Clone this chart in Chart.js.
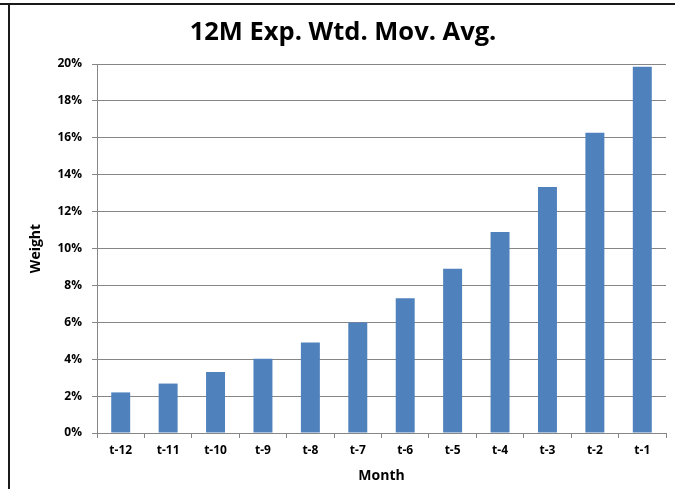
<!DOCTYPE html>
<html>
<head>
<meta charset="utf-8">
<script src="https://cdn.jsdelivr.net/npm/chart.js@4"></script>
<style>
  html, body { margin: 0; padding: 0; background: #fff; }
  #wrap { width: 675px; height: 489px; }
</style>
</head>
<body>
<div id="wrap"><canvas id="chart" width="675" height="489"></canvas></div>
<script>
const months = ["t-12","t-11","t-10","t-9","t-8","t-7","t-6","t-5","t-4","t-3","t-2","t-1"];
const weights = [2.20, 2.68, 3.30, 4.02, 4.91, 5.99, 7.31, 8.90, 10.90, 13.33, 16.27, 19.85];
const yTicks = [0, 2, 4, 6, 8, 10, 12, 14, 16, 18, 20];

const FONT = "'Open Sans', Lato, sans-serif";
const GRID = '#868686';

// frame lines (top + left) like the pasted excel box
const framePlugin = {
    id: 'frame',
    afterDraw(c) {
        const ctx = c.ctx;
        ctx.save();
        ctx.fillStyle = '#1a1a1a';
        ctx.fillRect(0, 3, 675, 2);
        ctx.fillRect(8, 3, 2, 486);
        ctx.restore();
    }
};

new Chart(document.getElementById('chart'), {
    type: 'bar',
    data: {
        labels: months,
        datasets: [{
            label: 'Weight',
            data: weights,
            backgroundColor: '#4F81BD',
            borderWidth: 0,
            barPercentage: 0.4,
            categoryPercentage: 1.0
        }]
    },
    options: {
        responsive: false,
        animation: false,
        layout: { padding: { left: 20, right: 9, top: 0, bottom: 0 } },
        plugins: {
            legend: { display: false },
            tooltip: { enabled: false },
            title: {
                display: true,
                text: '12M Exp. Wtd. Mov. Avg.',
                color: '#000',
                font: { family: FONT, size: 25.5, weight: 'bold', lineHeight: 1.2 },
                padding: { top: 17, bottom: 16.4 }
            }
        },
        scales: {
            x: {
                afterFit: s => { s.height = 56; },
                grid: { display: true, drawOnChartArea: false, offset: true, tickLength: 5, color: GRID },
                border: { color: GRID },
                ticks: { color: '#000', padding: 5, font: { family: FONT, size: 12, weight: 'bold' } },
                title: {
                    display: true, text: 'Month', color: '#000',
                    font: { family: FONT, size: 14, weight: 'bold', lineHeight: 1.2 },
                    padding: { top: 0, bottom: 5 }
                }
            },
            y: {
                min: 0, max: 20,
                afterFit: s => { s.width = 77; },
                afterBuildTicks: s => { s.ticks = yTicks.map(v => ({ value: v })); },
                grid: { color: GRID, tickLength: 5 },
                border: { color: GRID },
                ticks: {
                    color: '#000', padding: 10,
                    font: { family: FONT, size: 12, weight: 'bold' },
                    callback: v => v + '%'
                },
                title: {
                    display: true, text: 'Weight', color: '#000',
                    font: { family: FONT, size: 14, weight: 'bold', lineHeight: 1.2 },
                    padding: { top: 8, bottom: 0 }
                }
            }
        }
    },
    plugins: [framePlugin]
});
</script>
</body>
</html>
